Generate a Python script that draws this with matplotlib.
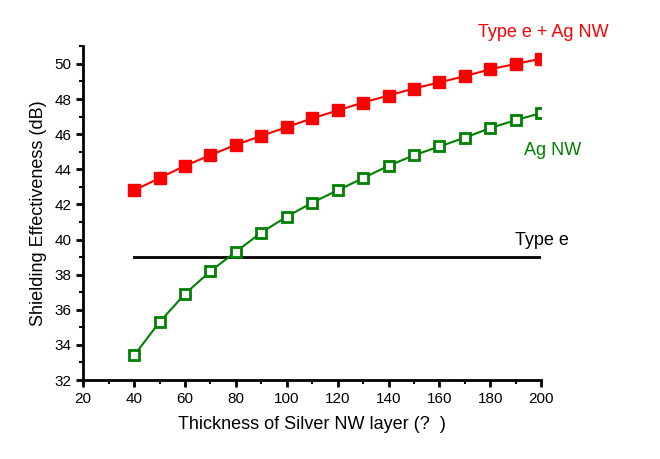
import matplotlib
matplotlib.use('Agg')
import matplotlib.pyplot as plt
from matplotlib.ticker import MultipleLocator

plt.rcParams['font.family'] = ['Liberation Sans', 'DejaVu Sans']

# Data
thickness = [40, 50, 60, 70, 80, 90, 100, 110, 120, 130, 140, 150, 160, 170, 180, 190, 200]
se_type_e_ag = [42.8, 43.5, 44.2, 44.8, 45.4, 45.9, 46.4, 46.9, 47.35, 47.8, 48.2, 48.6,
                48.95, 49.3, 49.7, 50.0, 50.3]
se_ag = [33.4, 35.3, 36.9, 38.2, 39.3, 40.4, 41.3, 42.1, 42.8, 43.5, 44.2, 44.8,
         45.3, 45.8, 46.35, 46.8, 47.2]
type_e_x = [40, 200]
type_e_y = [39.0, 39.0]

fig = plt.figure(figsize=(6.6, 4.59), dpi=100)
ax = fig.add_axes([0.126, 0.172, 0.694, 0.727])

ax.plot(type_e_x, type_e_y, color='black', linewidth=2)
ax.plot(thickness, se_type_e_ag, color='#ff0000', linewidth=1.5, marker='s',
        markersize=8.5, markerfacecolor='#ff0000', markeredgecolor='#ff0000')
ax.plot(thickness, se_ag, color='#008000', linewidth=1.5, marker='s',
        markersize=7, markerfacecolor='white', markeredgecolor='#008000',
        markeredgewidth=2)

ax.set_xlim(20, 200)
ax.set_ylim(32, 51)
ax.xaxis.set_major_locator(MultipleLocator(20))
ax.xaxis.set_minor_locator(MultipleLocator(10))
ax.yaxis.set_major_locator(MultipleLocator(2))
ax.yaxis.set_minor_locator(MultipleLocator(1))

for side in ['top', 'right']:
    ax.spines[side].set_visible(False)
for side in ['left', 'bottom']:
    ax.spines[side].set_linewidth(2)
ax.tick_params(which='major', direction='out', length=5, width=2, labelsize=11)
ax.tick_params(which='minor', direction='out', length=3, width=1.5)

ax.set_xlabel('Thickness of Silver NW layer (?  )', fontsize=13, labelpad=7)
ax.set_ylabel('Shielding Effectiveness (dB)', fontsize=13, labelpad=5)

fig.text(0.724, 0.93, 'Type e + Ag NW', color='#ff0000', fontsize=13, ha='left', va='center')
fig.text(0.794, 0.673, 'Ag NW', color='#008000', fontsize=13, ha='left', va='center')
fig.text(0.780, 0.477, 'Type e', color='black', fontsize=13, ha='left', va='center')

plt.savefig('out.png', dpi=100)
plt.close()
